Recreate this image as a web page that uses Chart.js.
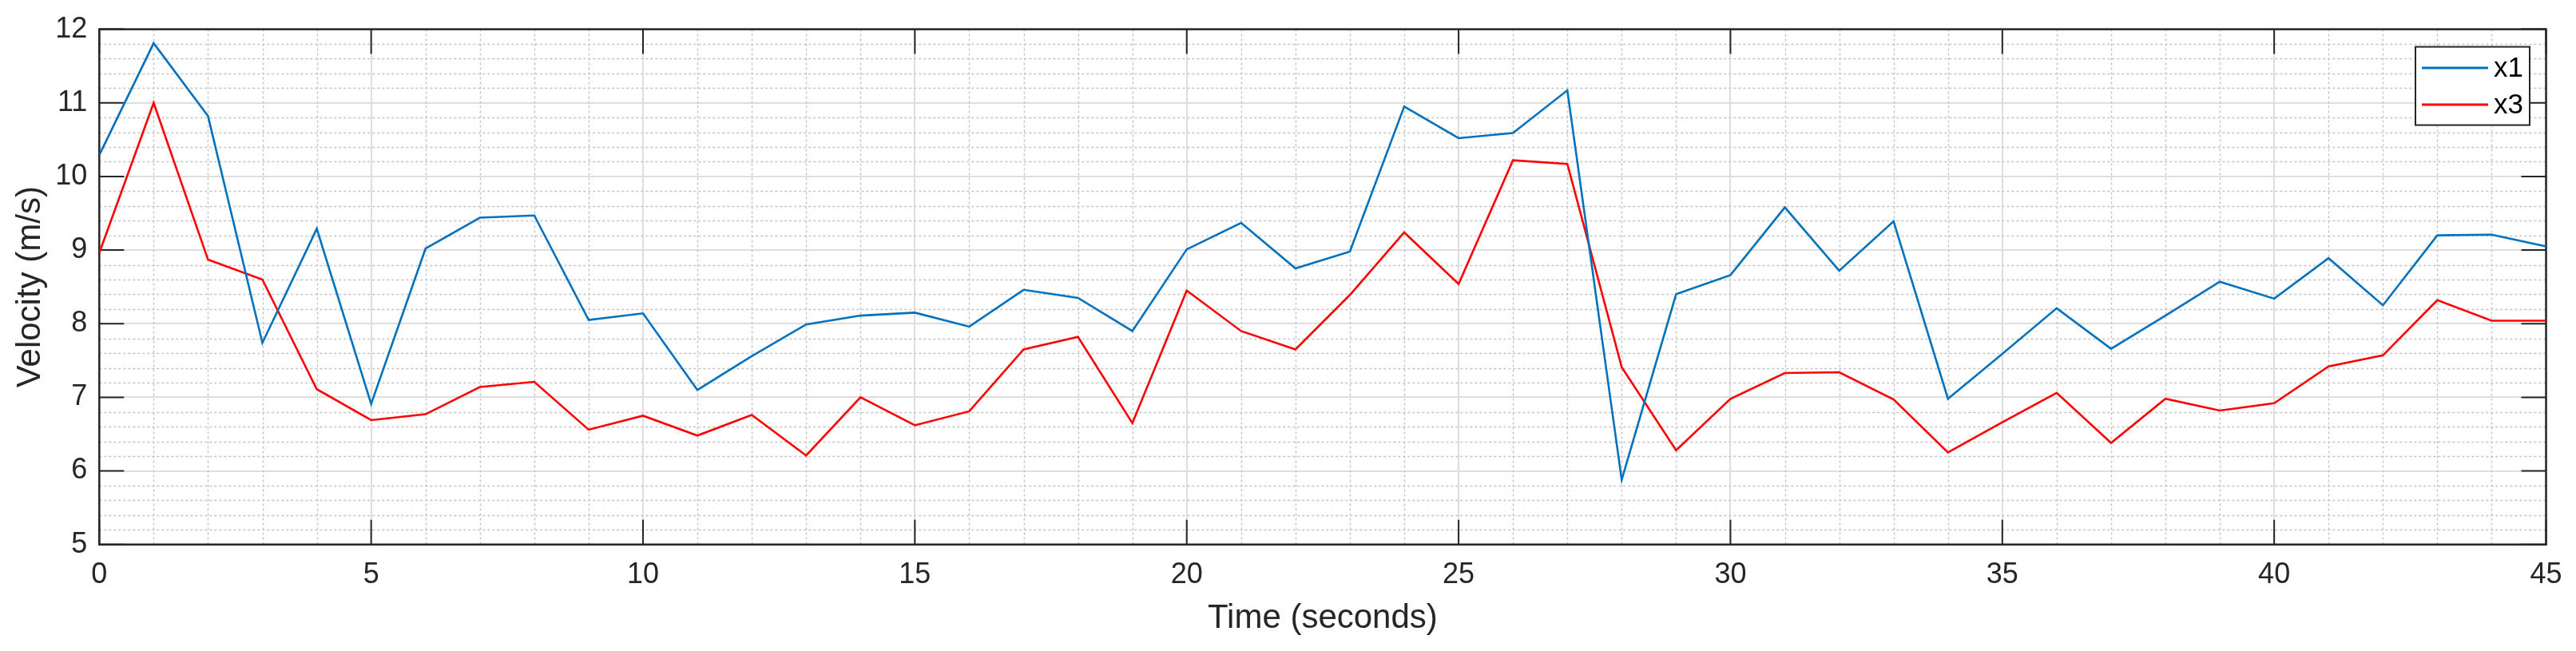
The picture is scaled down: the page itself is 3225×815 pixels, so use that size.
<!DOCTYPE html>
<html>
<head>
<meta charset="utf-8">
<title>Velocity</title>
<script src="https://cdn.jsdelivr.net/npm/chart.js@4.4.1/dist/chart.umd.min.js"></script>
<style>
  html, body { margin: 0; padding: 0; background: #fff; }
  #wrap { width: 3225px; height: 815px; }
</style>
</head>
<body>
<div id="wrap"><canvas id="chart"></canvas></div>
<script>
// time samples (s)
const times = [0, 1, 2, 3, 4, 5, 6, 7, 8, 9, 10, 11, 12, 13, 14, 15, 16, 17, 18, 19, 20, 21, 22,
  23, 24, 25, 26, 27, 28, 29, 30, 31, 32, 33, 34, 35, 36, 37, 38, 39, 40, 41, 42, 43, 44, 45];

// velocities (m/s)
const x1Values = [10.29, 11.81, 10.82, 7.74, 9.29, 6.91, 9.02, 9.44, 9.47, 8.05, 8.14, 7.10,
  7.56, 7.99, 8.11, 8.15, 7.96, 8.46, 8.35, 7.90, 9.01, 9.37, 8.75, 8.98, 10.95, 10.52, 10.59,
  11.17, 5.88, 8.40, 8.66, 9.58, 8.72, 9.39, 6.98, 7.59, 8.21, 7.66, 8.11, 8.57, 8.34, 8.89,
  8.25, 9.20, 9.21, 9.05];
const x3Values = [8.96, 11.00, 8.87, 8.60, 7.11, 6.69, 6.77, 7.14, 7.21, 6.56, 6.75, 6.48,
  6.76, 6.21, 7.00, 6.62, 6.81, 7.65, 7.82, 6.65, 8.45, 7.90, 7.65, 8.39, 9.24, 8.54, 10.22,
  10.17, 7.41, 6.28, 6.98, 7.33, 7.34, 6.97, 6.25, 6.66, 7.06, 6.38, 6.98, 6.82, 6.92, 7.42,
  7.57, 8.32, 8.04, 8.04];

const seriesLabels = ['x1', 'x3'];
const xTicks = [0, 5, 10, 15, 20, 25, 30, 35, 40, 45];
const yTicks = [5, 6, 7, 8, 9, 10, 11, 12];
const xMinorStep = 1;
const yMinorStep = 0.2;

const FONT = "'Liberation Sans', Arial, Helvetica, sans-serif";
const TEXT = '#262626';

// minor grid, axis box and inward ticks, MATLAB style
const boxPlugin = {
  id: 'matlabBox',
  beforeDatasetsDraw(chart) {
    const { ctx, chartArea: a, scales: { x, y } } = chart;
    ctx.save();
    // minor dotted grid
    ctx.strokeStyle = '#c4c4c4';
    ctx.lineWidth = 1.4;
    ctx.setLineDash([3, 3]);
    ctx.beginPath();
    for (let v = x.min + xMinorStep; v < x.max - 1e-6; v += xMinorStep) {
      if (xTicks.some(t => Math.abs(t - v) < 1e-6)) continue;
      const px = Math.round(x.getPixelForValue(v)) + 0.5;
      ctx.moveTo(px, a.top); ctx.lineTo(px, a.bottom);
    }
    for (let v = y.min + yMinorStep; v < y.max - 1e-6; v += yMinorStep) {
      if (yTicks.some(t => Math.abs(t - v) < 1e-6)) continue;
      const py = Math.round(y.getPixelForValue(v)) + 0.5;
      ctx.moveTo(a.left, py); ctx.lineTo(a.right, py);
    }
    ctx.stroke();
    ctx.setLineDash([]);

    // ticks pointing inward on all four sides
    const tl = 31;
    ctx.strokeStyle = TEXT;
    ctx.lineWidth = 2;
    ctx.beginPath();
    xTicks.forEach(t => {
      const px = x.getPixelForValue(t);
      ctx.moveTo(px, a.bottom); ctx.lineTo(px, a.bottom - tl);
      ctx.moveTo(px, a.top); ctx.lineTo(px, a.top + tl);
    });
    yTicks.forEach(t => {
      const py = y.getPixelForValue(t);
      ctx.moveTo(a.left, py); ctx.lineTo(a.left + tl, py);
      ctx.moveTo(a.right, py); ctx.lineTo(a.right - tl, py);
    });
    ctx.stroke();

    // box
    ctx.lineWidth = 2.5;
    ctx.strokeRect(a.left, a.top, a.right - a.left, a.bottom - a.top);
    ctx.restore();
  },
  afterDraw(chart) {
    const { ctx, chartArea: a } = chart;
    const boxW = 143, boxH = 98;
    const bx = a.right - 20.5 - boxW, by = a.top + 22;
    ctx.save();
    ctx.fillStyle = '#fff';
    ctx.fillRect(bx, by, boxW, boxH);
    ctx.strokeStyle = TEXT;
    ctx.lineWidth = 2;
    ctx.strokeRect(bx, by, boxW, boxH);
    ctx.font = '35px ' + FONT;
    ctx.textBaseline = 'middle';
    chart.data.datasets.forEach((ds, i) => {
      const ly = by + 26.5 + i * 46;
      ctx.strokeStyle = ds.borderColor;
      ctx.lineWidth = 3;
      ctx.beginPath();
      ctx.moveTo(bx + 8, ly); ctx.lineTo(bx + 91, ly);
      ctx.stroke();
      ctx.fillStyle = '#000';
      ctx.fillText(ds.label, bx + 98, ly + 1);
    });
    ctx.restore();
  }
};

new Chart(document.getElementById('chart'), {
  type: 'line',
  data: {
    datasets: [
      {
        label: seriesLabels[0],
        data: times.map((t, i) => ({ x: t, y: x1Values[i] })),
        borderColor: '#0072BD',
        borderWidth: 2.6,
        pointRadius: 0,
        tension: 0
      },
      {
        label: seriesLabels[1],
        data: times.map((t, i) => ({ x: t, y: x3Values[i] })),
        borderColor: '#FF0000',
        borderWidth: 2.6,
        pointRadius: 0,
        tension: 0
      }
    ]
  },
  options: {
    responsive: true,
    maintainAspectRatio: false,
    animation: false,
    layout: { padding: { top: 35, right: 37.5, left: 0, bottom: 0 } },
    plugins: {
      legend: { display: false },
      tooltip: { enabled: false }
    },
    scales: {
      x: {
        type: 'linear',
        min: 0,
        max: 45,
        afterBuildTicks: scale => { scale.ticks = xTicks.map(v => ({ value: v })); },
        afterFit: scale => { scale.height = 133.3; },
        ticks: {
          color: TEXT,
          font: { family: FONT, size: 36 },
          padding: 16.7,
          maxRotation: 0,
          autoSkip: false
        },
        grid: { color: '#dedede', lineWidth: 2, drawTicks: false },
        border: { display: false },
        title: {
          display: true,
          text: 'Time (seconds)',
          color: TEXT,
          font: { family: FONT, size: 42 },
          padding: { top: 0, bottom: 15.4 }
        }
      },
      y: {
        min: 5,
        max: 12,
        afterBuildTicks: scale => { scale.ticks = yTicks.map(v => ({ value: v })); },
        afterFit: scale => { scale.width = 124.3; },
        ticks: {
          color: TEXT,
          font: { family: FONT, size: 36 },
          padding: 15
        },
        grid: { color: '#dedede', lineWidth: 2, drawTicks: false },
        border: { display: false },
        title: {
          display: true,
          text: 'Velocity (m/s)',
          color: TEXT,
          font: { family: FONT, size: 42 },
          padding: { top: 12.8, bottom: 0 }
        }
      }
    }
  },
  plugins: [boxPlugin]
});
</script>
</body>
</html>
